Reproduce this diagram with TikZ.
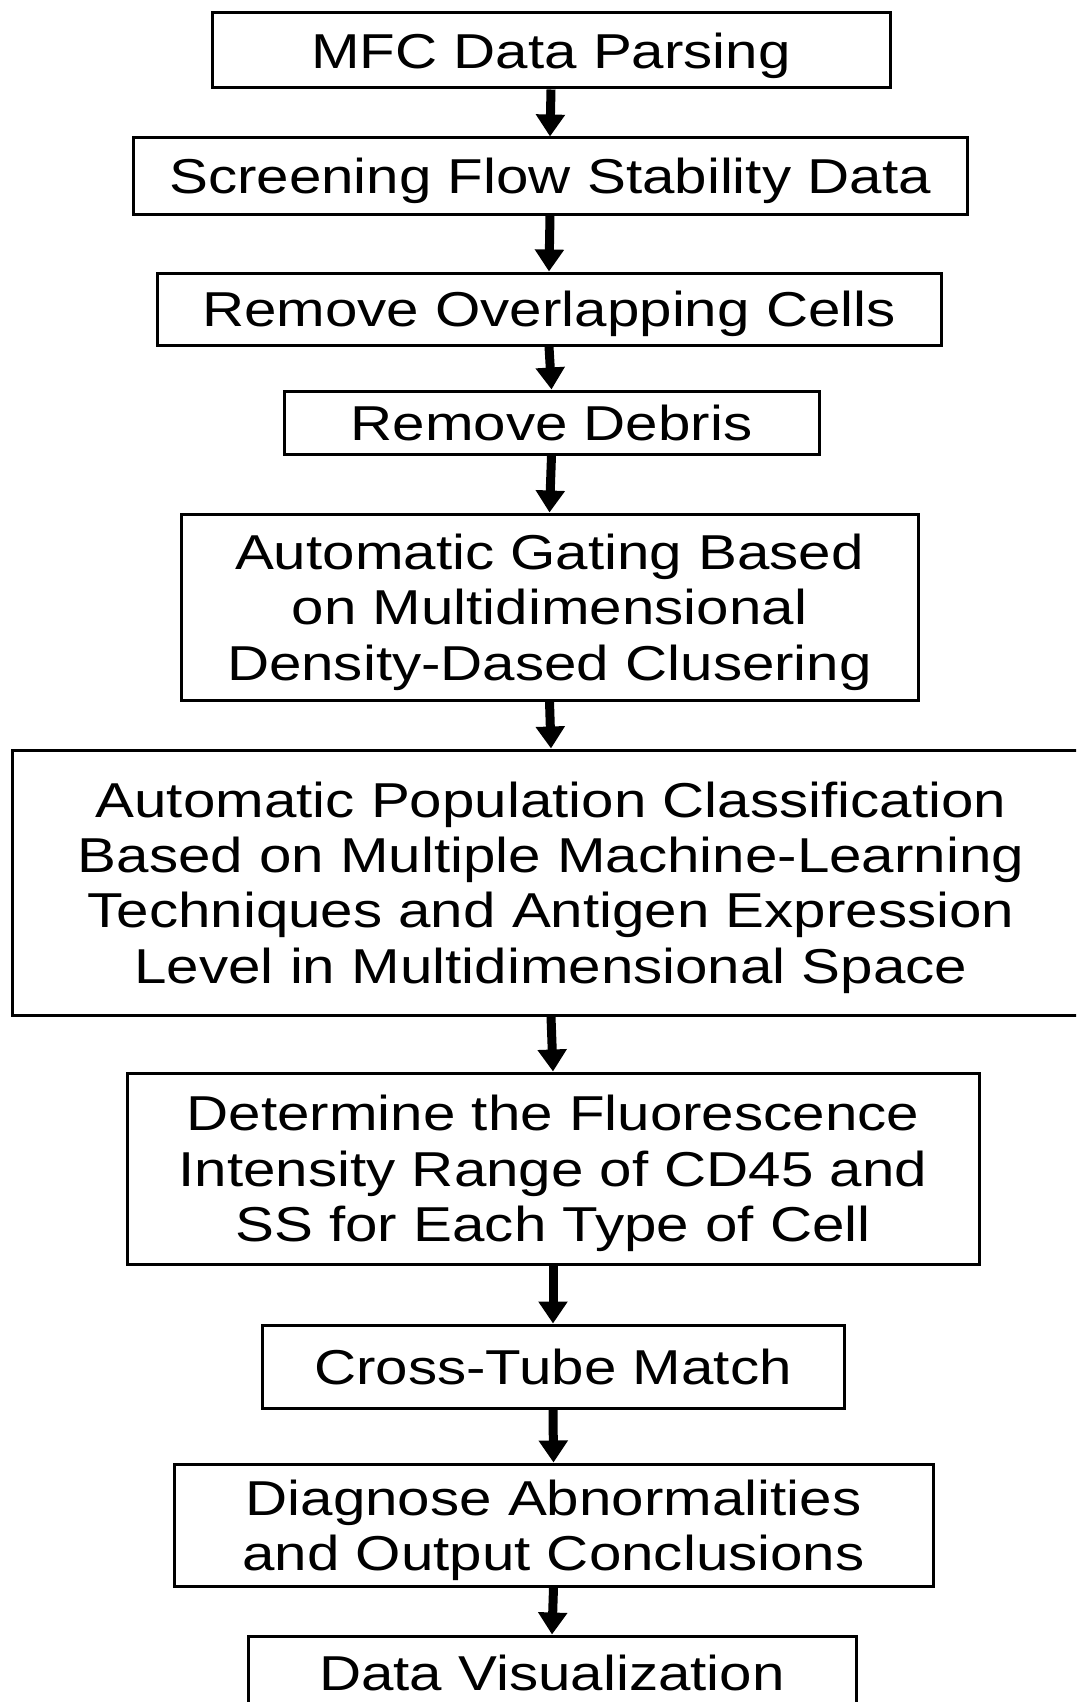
\documentclass[tikz,border=0pt]{standalone}
\usepackage{fontspec}
\setmainfont[FakeStretch=1.19]{Liberation Sans}
\usetikzlibrary{arrows.meta, positioning}

\begin{document}
\begin{tikzpicture}[x=0.5pt, y=-0.5pt, >={Triangle[length=11pt, width=14pt]},
    stepbox/.style={draw, line width=1.5pt, align=center, inner sep=0pt, text depth=0pt,
        font=\fontsize{24.5}{27.7}\selectfont},
    flow/.style={->, line width=4.5pt}]
    \useasboundingbox (0,0) rectangle (1076,1702);
    \clip (0,0) rectangle (1076,1702);

    % steps of the pipeline
    \node[stepbox, minimum width=339pt, minimum height=37.5pt] (parse) at (551, 50.5) {MFC Data Parsing};
    \node[stepbox, minimum width=417pt, minimum height=38pt] (screen) at (550, 176) {Screening Flow Stability Data};
    \node[stepbox, minimum width=392pt, minimum height=36pt] (overlap) at (549, 309) {Remove Overlapping Cells};
    \node[stepbox, minimum width=267.5pt, minimum height=31.5pt] (debris) at (551.5, 422.5) {Remove Debris};
    \node[stepbox, minimum width=368.5pt, minimum height=93pt] (gating) at (549.5, 607)
        {Automatic Gating Based\\on Multidimensional\\Density-Dased Clusering};
    \node[stepbox, minimum width=539pt, minimum height=132.5pt] (classify) at (551, 882.5)
        {Automatic Population Classification\\Based on Multiple Machine-Learning\\Techniques and Antigen Expression\\Level in Multidimensional Space};
    \node[stepbox, minimum width=426pt, minimum height=95.5pt] (range) at (553, 1168.5)
        {Determine the Fluorescence\\Intensity Range of CD45 and\\SS for Each Type of Cell};
    \node[stepbox, minimum width=291pt, minimum height=41.5pt] (match) at (553, 1366.5) {Cross-Tube Match};
    \node[stepbox, minimum width=379.5pt, minimum height=61pt] (diagnose) at (553.5, 1525)
        {Diagnose Abnormalities\\and Output Conclusions};
    \node[stepbox, minimum width=304pt, minimum height=37pt] (visual) at (552, 1673) {Data Visualization};

    % arrows
    \foreach \a/\b in {parse/screen, screen/overlap, overlap/debris, debris/gating, gating/classify,
        classify/range, range/match, match/diagnose, diagnose/visual}
        \draw[flow] (\a.south) -- (\b.north);
\end{tikzpicture}
\end{document}
